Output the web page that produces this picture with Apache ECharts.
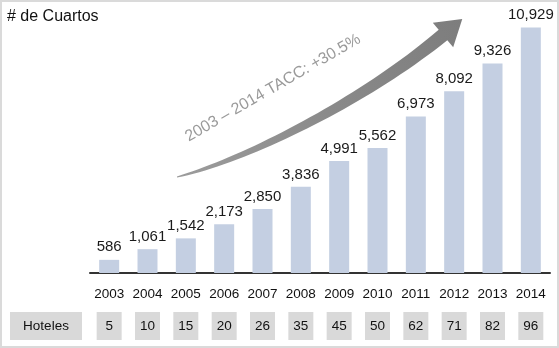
<!DOCTYPE html>
<html>
<head>
<meta charset="utf-8">
<script src="https://cdn.jsdelivr.net/npm/echarts@6/dist/echarts.min.js"></script>
<style>
  html, body { margin: 0; padding: 0; background: #fff; }
  #chart { width: 559px; height: 348px; }
</style>
</head>
<body>
<div id="chart"></div>
<script>
var years = ['2003', '2004', '2005', '2006', '2007', '2008', '2009', '2010', '2011', '2012', '2013', '2014'];
var rooms = [586, 1061, 1542, 2173, 2850, 3836, 4991, 5562, 6973, 8092, 9326, 10929];
var hotels = ['5', '10', '15', '20', '26', '35', '45', '50', '62', '71', '82', '96'];
var titleText = '# de Cuartos';
var growthText = '2003 \u2013 2014 TACC: +30.5%';
var rowLabel = 'Hoteles';

var FONT = '"Liberation Sans", Arial, sans-serif';

// curved growth arrow (cubic bezier, shaft gets thicker toward the head)
function bez(p, t) {
    var u = 1 - t;
    return [
        u * u * u * p[0][0] + 3 * u * u * t * p[1][0] + 3 * u * t * t * p[2][0] + t * t * t * p[3][0],
        u * u * u * p[0][1] + 3 * u * u * t * p[1][1] + 3 * u * t * t * p[2][1] + t * t * t * p[3][1]
    ];
}
function arrowPoints() {
    var p = [[177, 177], [245, 160], [362, 102], [443, 35]];
    var upper = [], lower = [];
    var n = 40;
    for (var i = 0; i <= n; i++) {
        var t = i / n;
        var a = bez(p, Math.max(0, t - 0.01)), b = bez(p, Math.min(1, t + 0.01));
        var dx = b[0] - a[0], dy = b[1] - a[1];
        var len = Math.sqrt(dx * dx + dy * dy);
        var nx = -dy / len, ny = dx / len;
        var hw = 0.4 + 6.4 * Math.pow(t, 0.75);
        var c = bez(p, t);
        upper.push([c[0] - nx * hw, c[1] - ny * hw]);
        lower.push([c[0] + nx * hw, c[1] + ny * hw]);
    }
    var ex = p[3][0] - p[2][0], ey = p[3][1] - p[2][1];
    var el = Math.sqrt(ex * ex + ey * ey);
    ex /= el; ey /= el;
    var tip = [p[3][0] + ex * 25, p[3][1] + ey * 25];
    var h1 = [p[3][0] + ey * 16, p[3][1] - ex * 16];
    var h2 = [p[3][0] - ey * 16, p[3][1] + ex * 16];
    var pts = upper.slice();
    pts.push(h1, tip, h2);
    return pts.concat(lower.reverse());
}

var myChart = echarts.init(document.getElementById('chart'));
var option = {
    animation: false,
    textStyle: { fontFamily: FONT },
    title: {
        text: titleText,
        left: 7,
        top: 9,
        padding: 0,
        textStyle: { fontSize: 16, fontWeight: 'normal', color: '#111', fontFamily: FONT }
    },
    grid: { left: 90, right: 9, top: 26, bottom: 75 },
    xAxis: [
        {
            type: 'category',
            data: years,
            axisLine: { lineStyle: { color: '#333', width: 2 } },
            axisTick: { show: false },
            axisLabel: { interval: 0, fontSize: 13.5, color: '#111', margin: 14, fontFamily: FONT }
        },
        {
            type: 'category',
            data: hotels,
            position: 'bottom',
            axisLine: { show: false },
            axisTick: { show: false },
            axisLabel: {
                interval: 0,
                fontSize: 13.5,
                color: '#111',
                fontFamily: FONT,
                margin: 39,
                backgroundColor: '#d9d9d9',
                width: 25,
                height: 28,
                lineHeight: 28,
                align: 'center'
            }
        }
    ],
    yAxis: { type: 'value', min: 0, max: 11000, show: false },
    series: [
        {
            type: 'bar',
            data: rooms,
            barWidth: 20,
            itemStyle: { color: '#c4cfe2' },
            label: {
                show: true,
                position: 'top',
                distance: 5,
                fontSize: 15,
                color: '#1a1a1a',
                fontFamily: FONT,
                formatter: function (p) { return p.value.toLocaleString('en-US'); }
            }
        }
    ],
    graphic: [
        {
            type: 'rect',
            shape: { x: 1, y: 1, width: 557, height: 346 },
            style: { fill: 'none', stroke: '#dadada', lineWidth: 2 },
            silent: true
        },
        {
            type: 'polygon',
            shape: { points: arrowPoints() },
            style: {
                fill: new echarts.graphic.LinearGradient(0, 1, 1, 0, [
                    { offset: 0, color: '#9c9c9c' },
                    { offset: 0.5, color: '#8a8a8a' },
                    { offset: 1, color: '#7d7d7d' }
                ], false)
            },
            silent: true
        },
        {
            type: 'text',
            x: 273,
            y: 88,
            rotation: 30 * Math.PI / 180,
            style: {
                text: growthText,
                fontSize: 16,
                fill: '#9a9a9a',
                fontFamily: FONT,
                align: 'center',
                verticalAlign: 'middle'
            },
            silent: true
        },
        {
            type: 'rect',
            shape: { x: 10, y: 312, width: 72, height: 28 },
            style: { fill: '#d9d9d9' },
            silent: true
        },
        {
            type: 'text',
            x: 46,
            y: 326,
            style: {
                text: rowLabel,
                fontSize: 13.5,
                fill: '#111',
                fontFamily: FONT,
                align: 'center',
                verticalAlign: 'middle'
            },
            silent: true
        }
    ]
};
myChart.setOption(option);
</script>
</body>
</html>
